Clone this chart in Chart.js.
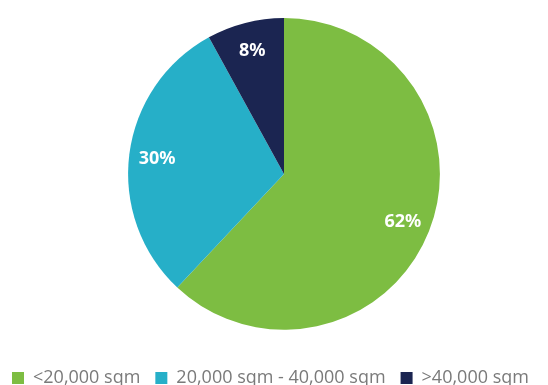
<!DOCTYPE html>
<html lang="en">
<head>
    <meta charset="UTF-8">
    <title>Floor area split</title>
    <script src="https://cdn.jsdelivr.net/npm/chart.js"></script>
    <style>
        html, body {
            margin: 0;
            padding: 0;
            background: #ffffff;
            overflow: hidden;
        }
        .chart-container {
            position: relative;
            margin-left: -3px;
            width: 574px;
            height: 397px;
        }
    </style>
</head>
<body>
    <div class="chart-container">
        <canvas id="areaChart"></canvas>
    </div>

    <script>
        const categories = ['<20,000 sqm', '20,000 sqm - 40,000 sqm', '>40,000 sqm'];
        const shares = [62, 30, 8];
        const sliceColors = ['#7dbd42', '#26afc8', '#1b2551'];

        // percentage labels drawn inside each slice
        const sliceLabels = {
            id: 'sliceLabels',
            afterDatasetsDraw(chart) {
                const ctx = chart.ctx;
                const meta = chart.getDatasetMeta(0);
                ctx.save();
                ctx.fillStyle = '#ffffff';
                ctx.font = 'bold 18px "Noto Sans", sans-serif';
                ctx.textAlign = 'center';
                ctx.textBaseline = 'middle';
                meta.data.forEach((arc, i) => {
                    const mid = (arc.startAngle + arc.endAngle) / 2;
                    const r = arc.outerRadius * 0.82;
                    const x = arc.x + Math.cos(mid) * r;
                    const y = arc.y + Math.sin(mid) * r;
                    ctx.fillText(shares[i] + '%', x, y + 1);
                });
                ctx.restore();
            }
        };

        new Chart(document.getElementById('areaChart'), {
            type: 'pie',
            data: {
                labels: categories,
                datasets: [{
                    data: shares,
                    backgroundColor: sliceColors,
                    borderWidth: 0
                }]
            },
            options: {
                responsive: true,
                maintainAspectRatio: false,
                animation: false,
                layout: {
                    padding: { top: 18, left: 0, right: 0, bottom: 0 }
                },
                plugins: {
                    tooltip: { enabled: false },
                    legend: {
                        position: 'bottom',
                        align: 'start',
                        title: {
                            display: true,
                            text: '',
                            font: { size: 1 },
                            padding: { top: 23, bottom: 0 }
                        },
                        labels: {
                            boxWidth: 12,
                            boxHeight: 12,
                            padding: 15,
                            color: '#7a7a7a',
                            font: { family: '"Open Sans", sans-serif', size: 18 }
                        }
                    }
                }
            },
            plugins: [sliceLabels]
        });
    </script>
</body>
</html>
